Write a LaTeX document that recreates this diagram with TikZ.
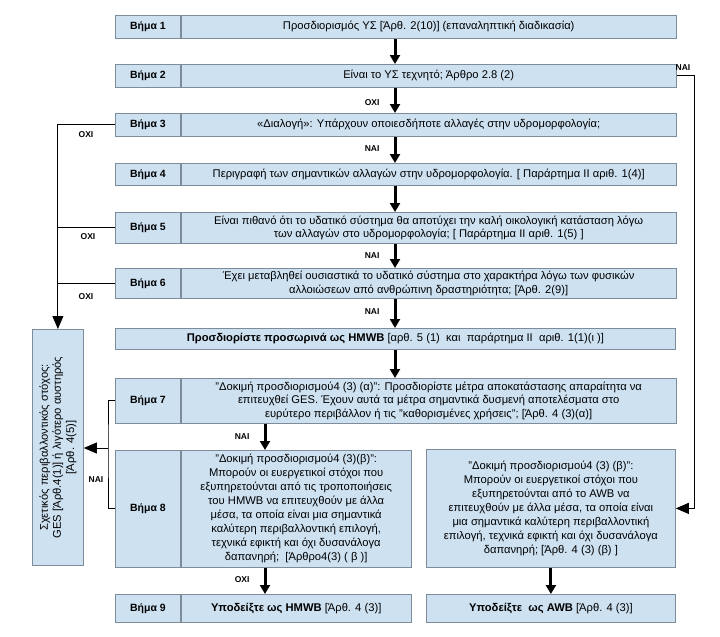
\documentclass[tikz,border=0pt]{standalone}
\usepackage{fontspec}
\setmainfont{Liberation Sans}
\usetikzlibrary{arrows.meta}
\definecolor{boxfill}{HTML}{CDE1F1}
\definecolor{boxline}{HTML}{7D8C9B}
\tikzset{
  box/.style={draw=boxline,fill=boxfill,line width=0.8pt,inner sep=2pt,align=center,anchor=north west,font=\fontsize{11.2}{13.2}\selectfont},
  lbl/.style={box,minimum width=65,font=\fontsize{10.5}{12}\selectfont\bfseries},
  cnt/.style={box,minimum width=495},
  arr/.style={-{Triangle[width=10pt,length=9pt]},line width=3pt},
  larr/.style={-{Triangle[width=11pt,length=13pt]},line width=0.9pt},
  lnk/.style={line width=0.9pt},
  yn/.style={font=\fontsize{8.5}{9}\selectfont\bfseries},
}
\begin{document}
\begin{tikzpicture}[x=1pt,y=-1pt]
\useasboundingbox[fill=white] (0,0) rectangle (720,637);
% steps 1-6
\foreach \n/\top/\h/\txt in {
  1/15/23/{Προσδιορισμός ΥΣ [Άρθ. 2(10)] (επαναληπτική διαδικασία)},
  2/64/23/{Είναι το ΥΣ τεχνητό; Άρθρο 2.8 (2)},
  3/113/23/{«Διαλογή»: Υπάρχουν οποιεσδήποτε αλλαγές στην υδρομορφολογία;},
  4/163/22/{Περιγραφή των σημαντικών αλλαγών στην υδρομορφολογία. [ Παράρτημα II αριθ. 1(4)]},
  5/212/31/{Είναι πιθανό ότι το υδατικό σύστημα θα αποτύχει την καλή οικολογική κατάσταση λόγω\\των αλλαγών στο υδρομορφολογία; [ Παράρτημα II αριθ. 1(5) ]},
  6/268/30/{Έχει μεταβληθεί ουσιαστικά το υδατικό σύστημα στο χαρακτήρα λόγω των φυσικών\\αλλοιώσεων από ανθρώπινη δραστηριότητα; [Άρθ. 2(9)]}}{
  \node[lbl,minimum height=\h] (l\n) at (115,\top) {Βήμα \n};
  \node[cnt,minimum height=\h] (s\n) at (l\n.north east) {\txt};
}
\node[box,minimum width=560,minimum height=21] (hm) at (115,328)
  {\textbf{Προσδιορίστε προσωρινά ως HMWB} [αρθ. 5 (1)\ \ και\ \ παράρτημα II\ \ αριθ. 1(1)(ι )]};
% step 7
\node[lbl,minimum height=45] (l7) at (115,378) {Βήμα 7};
\node[cnt,minimum height=45] (s7) at (l7.north east)
  {"Δοκιμή προσδιορισμού4 (3) (α)": Προσδιορίστε μέτρα αποκατάστασης απαραίτητα να\\
   επιτευχθεί GES. Έχουν αυτά τα μέτρα σημαντικά δυσμενή αποτελέσματα στο\\
   ευρύτερο περιβάλλον ή τις "καθορισμένες χρήσεις"; [Άρθ. 4 (3)(α)]};
% step 8 and AWB test
\node[lbl,minimum height=117] (l8) at (115,450) {Βήμα 8};
\node[cnt,minimum width=230,minimum height=117,font=\fontsize{11.2}{14}\selectfont] (s8) at (l8.north east)
  {"Δοκιμή προσδιορισμού4 (3)(β)":\\Μπορούν οι ευεργετικοί στόχοι που\\
   εξυπηρετούνται από τις τροποποιήσεις\\του HMWB να επιτευχθούν με άλλα\\
   μέσα, τα οποία είναι μια σημαντικά\\καλύτερη περιβαλλοντική επιλογή,\\
   τεχνικά εφικτή και όχι δυσανάλογα\\δαπανηρή;\ \ {[Άρθρο4(3) ( β )]}};
\node[box,minimum width=249,minimum height=118,font=\fontsize{11.2}{14}\selectfont] (awb) at (426,449)
  {"Δοκιμή προσδιορισμού4 (3) (β)":\\Μπορούν οι ευεργετικοί στόχοι που\\
   εξυπηρετούνται από το AWB να\\επιτευχθούν με άλλα μέσα, τα οποία είναι\\
   μια σημαντικά καλύτερη περιβαλλοντική\\επιλογή, τεχνικά εφικτή και όχι δυσανάλογα\\
   δαπανηρή; {[Άρθ. 4 (3) (β) ]}};
% results
\node[lbl,minimum height=28] (l9) at (115,594) {Βήμα 9};
\node[cnt,minimum width=230,minimum height=28] (s9) at (l9.north east)
  {\textbf{Υποδείξτε ως HMWB} [Άρθ. 4 (3)]};
\node[box,minimum width=249,minimum height=28] (awbres) at (426,594)
  {\textbf{Υποδείξτε\ \ ως AWB} [Άρθ. 4 (3)]};
% environmental objective
\node[box,minimum width=51,minimum height=236] (ges) at (32,329) {};
\node[rotate=90,align=center,font=\fontsize{11.2}{13.2}\selectfont] (gestxt) at (ges.center)
  {Σχετικός περιβαλλοντικός στόχος:\\GES {[Άρθ.4(1)]} ή λιγότερο αυστηρός\\{}{[Άρθ. 4(5)]}};
% main flow
\coordinate (mid) at (395,0);
\foreach \a/\b in {s1/s2,s2/s3,s3/s4,s4/s5,s5/s6,s6/hm,hm/s7}
  \draw[arr] (\a.south -| mid) -- (\b.north -| mid);
\coordinate (mid8) at (265,0);
\draw[arr] (s7.south -| mid8) -- (s8.north -| mid8);
\draw[arr] (s8.south -| mid8) -- (s9.north -| mid8);
\draw[arr] (awb.south) -- (awbres.north);
% side branches
\draw[larr] (s2.east) -- ++(18,0) |- (awb.east);
\draw[larr] (l3.west) -| (ges.north);
\draw[lnk] (l5.west) -- (l5.west -| ges.north);
\draw[lnk] (l6.west) -- (l6.west -| ges.north);
\coordinate (br) at (108,448);
\draw[lnk] (l7.west) -| (br) |- (l8.west);
\draw[larr] (br) -- (br -| ges.east);
% answers
\node[yn,anchor=east] (a2) at (383,103) {ΟΧΙ};
\node[yn,anchor=east] (a3) at (383,149) {ΝΑΙ};
\node[yn,anchor=east] (a5) at (383,256) {ΝΑΙ};
\node[yn,anchor=east] (a6) at (383,312) {ΝΑΙ};
\node[yn,anchor=east] (a7) at (253,437) {ΝΑΙ};
\node[yn,anchor=east] (a8) at (253,580) {ΟΧΙ};
\node[yn] (b3) at (86,135) {ΟΧΙ};
\node[yn] (b5) at (88,237) {ΟΧΙ};
\node[yn] (b6) at (86,297) {ΟΧΙ};
\node[yn] (b7) at (96,480) {ΝΑΙ};
\node[yn] (r2) at (683,68) {ΝΑΙ};
\end{tikzpicture}
\end{document}
